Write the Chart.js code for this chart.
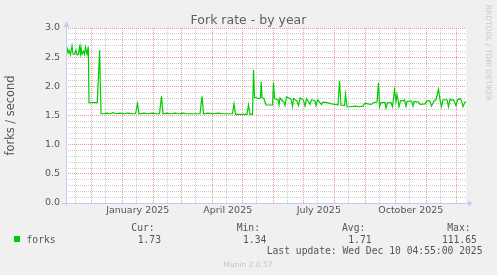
<!DOCTYPE html>
<html>
<head>
<meta charset="utf-8">
<script src="https://cdn.jsdelivr.net/npm/chart.js@4.4.1/dist/chart.umd.min.js"></script>
<style>
html, body { margin: 0; padding: 0; background: #f0f0f0; }
#wrap { position: relative; width: 497px; height: 275px; }
</style>
</head>
<body>
<div id="wrap"><canvas id="forksChart" width="497" height="275"></canvas></div>
<script>
// days since the start of the 400 day window (2024-11-05 04:55)
const dayOffsets = [
    1, 2, 3, 4.5, 6, 7, 8.5, 10, 11, 12.5, 13.5, 14.5, 15, 16, 17.5, 18.5, 19.5, 21, 22.3,
    23, 31.3, 33.6, 35,
    38, 41, 44, 47, 50, 54, 58, 62, 66, 69.5, 71.5, 73, 78, 82, 86, 90, 93.5, 95.5, 97,
    101, 105, 109, 113, 117, 121, 125, 129, 134, 136, 137.5, 142, 147, 152, 157, 162,
    166.5, 168, 169.5, 175, 181, 182.5, 184, 186.5, 187.5, 188.5, 192.5, 194.5, 195.2, 196,
    198, 200, 206.5, 207.5, 208.5, 212, 213, 214, 218, 219, 220.5, 225, 226.5, 227.5,
    231, 232.5, 234, 237.5, 239, 240.5, 244, 245.5, 249, 250, 251.5, 255.5, 257, 261,
    265.5, 269, 272, 273.5, 275, 278.5, 279.5, 281, 285, 289, 293, 297, 299, 302,
    305.5, 307.5, 311, 312.5, 313.5, 315, 319, 320, 321.5, 325, 326.5, 328.5, 330, 331,
    332, 333, 334.5, 337, 338.5, 340, 341, 345.5, 347, 348, 352.5, 354, 359, 361, 364,
    365.5, 368, 370, 372.5, 374, 375.5, 377, 381, 382.5, 384, 386, 387.5, 390, 391.5,
    394, 395.5, 397, 399, 400
];
const forks = [
    2.67, 2.57, 2.62, 2.54, 2.69, 2.55, 2.55, 2.62, 2.54, 2.55, 2.67, 2.56, 2.67, 2.55, 2.60, 2.55, 2.67, 2.55, 2.68,
    1.72, 1.72, 2.62, 1.53,
    1.53, 1.54, 1.53, 1.55, 1.53, 1.54, 1.53, 1.54, 1.53, 1.53, 1.70, 1.53, 1.54, 1.53, 1.54, 1.53, 1.53, 1.83, 1.53,
    1.54, 1.53, 1.54, 1.53, 1.54, 1.53, 1.53, 1.53, 1.53, 1.83, 1.53, 1.54, 1.53, 1.54, 1.53, 1.53,
    1.53, 1.70, 1.52, 1.52, 1.52, 1.68, 1.52, 1.52, 2.28, 1.81, 1.79, 1.80, 2.08, 1.81,
    1.79, 1.68, 1.68, 2.06, 1.79, 1.77, 1.68, 1.80, 1.72, 1.67, 1.82, 1.78, 1.66, 1.79,
    1.75, 1.67, 1.80, 1.76, 1.66, 1.79, 1.69, 1.77, 1.75, 1.67, 1.77, 1.69, 1.73, 1.72,
    1.70, 1.69, 1.68, 2.09, 1.68, 1.67, 1.87, 1.65, 1.65, 1.66, 1.65, 1.66, 1.71, 1.70,
    1.69, 1.72, 1.73, 2.06, 1.65, 1.72, 1.72, 1.63, 1.72, 1.72, 1.65, 1.94, 1.74, 1.86,
    1.77, 1.65, 1.75, 1.75, 1.77, 1.66, 1.74, 1.75, 1.66, 1.74, 1.73, 1.69, 1.70, 1.75, 1.75,
    1.66, 1.75, 1.77, 1.95, 1.77, 1.65, 1.77, 1.77, 1.65, 1.78, 1.76, 1.77, 1.67, 1.77,
    1.79, 1.75, 1.65, 1.73, 1.73
];

const periodStart = Date.UTC(2024, 10, 5, 4, 55);
const periodDays = 400;
const labelMonths = ['2025-01', '2025-04', '2025-07', '2025-10'];
const labelNames = ['January 2025', 'April 2025', 'July 2025', 'October 2025'];

const statNames = ['Cur:', 'Min:', 'Avg:', 'Max:'];
const statValues = ['1.73', '1.34', '1.71', '111.65'];
const seriesName = 'forks';
const lastUpdate = 'Last update: Wed Dec 10 04:55:00 2025';

const RED = 'rgba(230, 120, 120, 0.75)';
const GRAY = 'rgba(170, 170, 170, 0.6)';
const AXIS = '#c8c8f4';

function dayOf(y, m, d) {
    return (Date.UTC(y, m, d) - periodStart) / 86400000;
}

// month starts (red), 15th of each month (gray), labels half a month in
const xTicks = [];
for (let y = 2024; y <= 2025; y++) {
    for (let m = 0; m < 12; m++) {
        const start = dayOf(y, m, 1);
        const key = y + '-' + String(m + 1).padStart(2, '0');
        const li = labelMonths.indexOf(key);
        if (start >= 0 && start <= periodDays) xTicks.push({ value: start, kind: 'major', label: '' });
        if (start + 14 >= 0 && start + 14 <= periodDays) xTicks.push({ value: start + 14, kind: 'minor', label: '' });
        if (li >= 0) xTicks.push({ value: start + 15, kind: 'label', label: labelNames[li] });
    }
}
xTicks.sort((a, b) => a.value - b.value);

const muninDecor = {
    id: 'muninDecor',
    beforeDraw(chart) {
        const { ctx, chartArea: a } = chart;
        ctx.save();
        ctx.fillStyle = '#f0f0f0';
        ctx.fillRect(0, 0, chart.width, chart.height);
        ctx.fillStyle = '#ffffff';
        ctx.fillRect(a.left, a.top, a.right - a.left, a.bottom - a.top);
        ctx.restore();
    },
    afterDraw(chart) {
        const { ctx, chartArea: a } = chart;
        ctx.save();

        // axes with arrows
        ctx.strokeStyle = AXIS;
        ctx.fillStyle = AXIS;
        ctx.lineWidth = 1;
        ctx.beginPath();
        ctx.moveTo(a.left + 0.5, a.bottom + 3);
        ctx.lineTo(a.left + 0.5, a.top - 1);
        ctx.moveTo(a.left - 4, a.bottom + 0.5);
        ctx.lineTo(a.right + 2, a.bottom + 0.5);
        ctx.stroke();
        ctx.beginPath();
        ctx.moveTo(a.left - 2.5, a.top - 1);
        ctx.lineTo(a.left + 3.5, a.top - 1);
        ctx.lineTo(a.left + 0.5, a.top - 7);
        ctx.closePath();
        ctx.fill();
        ctx.beginPath();
        ctx.moveTo(a.right + 2, a.bottom - 2.5);
        ctx.lineTo(a.right + 2, a.bottom + 3.5);
        ctx.lineTo(a.right + 7, a.bottom + 0.5);
        ctx.closePath();
        ctx.fill();

        // title
        ctx.fillStyle = '#5f5f5f';
        ctx.font = '12.5px "DejaVu Sans"';
        ctx.textAlign = 'center';
        ctx.textBaseline = 'alphabetic';
        ctx.fillText('Fork rate - by year', 248.5, 24.3);

        // watermark
        ctx.save();
        ctx.translate(487.5, 53);
        ctx.rotate(Math.PI / 2);
        ctx.fillStyle = '#c8c8c8';
        ctx.font = '7.5px "DejaVu Sans"';
        ctx.textBaseline = 'middle';
        ctx.fillText('RRDTOOL / TOBI OETIKER', 0, 0);
        ctx.restore();

        // legend
        ctx.font = '9.7px "DejaVu Sans Mono"';
        ctx.fillStyle = '#00cc00';
        ctx.fillRect(14, 236, 6, 6);
        ctx.fillStyle = '#555555';
        ctx.textAlign = 'left';
        ctx.fillText(seriesName, 26.5, 242.7);
        ctx.textAlign = 'right';
        statNames.forEach((name, i) => {
            const right = 161 + 105.3 * i;
            ctx.fillText(name, right - 6.3, 231);
            ctx.fillText(statValues[i], right, 242.7);
        });
        ctx.fillText(lastUpdate, 482.5, 254);

        ctx.fillStyle = '#c4c4c4';
        ctx.font = '7.5px "DejaVu Sans"';
        ctx.textAlign = 'center';
        ctx.fillText('Munin 2.0.57', 248, 267.3);
        ctx.restore();
    }
};

document.addEventListener('DOMContentLoaded', function() {
    const canvas = document.getElementById('forksChart');
    new Chart(canvas, {
        type: 'line',
        data: {
            datasets: [{
                label: seriesName,
                data: dayOffsets.map((d, i) => ({ x: d, y: forks[i] })),
                borderColor: '#00cc00',
                borderWidth: 1.2,
                pointRadius: 0,
                tension: 0,
                fill: false
            }]
        },
        options: {
            responsive: false,
            animation: false,
            layout: { padding: { top: 28, right: 31, left: 0, bottom: 0 } },
            plugins: {
                legend: { display: false },
                tooltip: { enabled: false },
                title: { display: false }
            },
            scales: {
                x: {
                    type: 'linear',
                    min: 0,
                    max: periodDays,
                    afterBuildTicks: scale => {
                        scale.ticks = xTicks.map(t => ({ value: t.value }));
                    },
                    afterFit: scale => { scale.height = 72; },
                    ticks: {
                        autoSkip: false,
                        maxRotation: 0,
                        minRotation: 0,
                        padding: 2,
                        color: '#555555',
                        font: { family: 'DejaVu Sans', size: 9.5 },
                        callback: (value, index) => xTicks[index] ? xTicks[index].label : ''
                    },
                    grid: {
                        drawTicks: false,
                        lineWidth: 1,
                        color: ctx => {
                            const t = xTicks[ctx.index];
                            if (!t) return 'transparent';
                            return t.kind === 'major' ? RED : (t.kind === 'minor' ? GRAY : 'transparent');
                        }
                    },
                    border: { display: false, dash: [1, 1] }
                },
                y: {
                    min: 0,
                    max: 3,
                    afterFit: scale => { scale.width = 66; },
                    ticks: {
                        stepSize: 0.1,
                        maxTicksLimit: 100,
                        autoSkip: false,
                        padding: 6,
                        color: '#555555',
                        font: { family: 'DejaVu Sans', size: 9.5 },
                        callback: (value, index) => index % 5 === 0 ? value.toFixed(1) : ''
                    },
                    grid: {
                        drawTicks: false,
                        lineWidth: 1,
                        color: ctx => ctx.index === 0 ? 'transparent' : (ctx.index % 5 === 0 ? RED : GRAY)
                    },
                    border: { display: false, dash: [1, 1] },
                    title: {
                        display: true,
                        text: 'forks / second',
                        color: '#555555',
                        font: { family: 'DejaVu Sans', size: 11.4 },
                        padding: { top: 4, bottom: 0 }
                    }
                }
            }
        },
        plugins: [muninDecor]
    });
});
</script>
</body>
</html>
